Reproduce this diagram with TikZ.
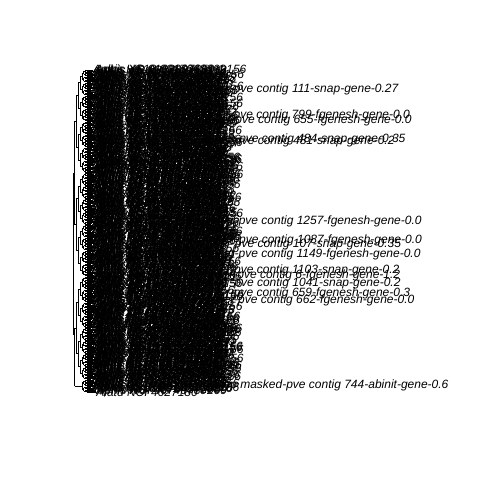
\documentclass[tikz,border=0pt]{standalone}
\usepackage{fontspec}
\setmainfont{Liberation Sans}
\pgfkeyssetvalue{/lbl/24}{Aphis glycines BT1 maker-pve contig 111-snap-gene-0.27}
\pgfkeyssetvalue{/lbl/56}{Aphis glycines BT1 maker-pve contig 799-fgenesh-gene-0.0}
\pgfkeyssetvalue{/lbl/62}{Aphis glycines BT1 maker-pve contig 655-fgenesh-gene-0.0}
\pgfkeyssetvalue{/lbl/86}{Aphis glycines BT1 maker-pve contig 484-snap-gene-0.35}
\pgfkeyssetvalue{/lbl/88}{Aphis glycines BT1 maker-pve contig 481-snap-gene-0.2}
\pgfkeyssetvalue{/lbl/187}{Aphis glycines BT1 maker-pve contig 1257-fgenesh-gene-0.0}
\pgfkeyssetvalue{/lbl/211}{Aphis glycines BT1 maker-pve contig 1087-fgenesh-gene-0.0}
\pgfkeyssetvalue{/lbl/216}{Aphis glycines BT1 maker-pve contig 107-snap-gene-0.35}
\pgfkeyssetvalue{/lbl/228}{Aphis glycines BT1 maker-pve contig 1149-fgenesh-gene-0.0}
\pgfkeyssetvalue{/lbl/248}{Aphis glycines BT1 maker-pve contig 1103-snap-gene-0.2}
\pgfkeyssetvalue{/lbl/255}{Aphis glycines BT1 maker-pve contig 6-fgenesh-gene-1.2}
\pgfkeyssetvalue{/lbl/264}{Aphis glycines BT1 maker-pve contig 1041-snap-gene-0.2}
\pgfkeyssetvalue{/lbl/277}{Aphis glycines BT1 maker-pve contig 659-fgenesh-gene-0.3}
\pgfkeyssetvalue{/lbl/285}{Aphis glycines BT1 maker-pve contig 662-fgenesh-gene-0.0}
\pgfkeyssetvalue{/lbl/391}{Aphis glycines maker-snap masked-pve contig 744-abinit-gene-0.6}
\pgfkeyssetvalue{/lbl/0}{Aphis HS18 0917068809156}
\pgfkeyssetvalue{/lbl/399}{Alatd NCI 4627180}
\begin{document}
\begin{tikzpicture}[x=1pt,y=-1pt,
  br/.style={line width=0.45pt,black},
  leaf/.style={anchor=west,inner sep=0pt,font=\itshape\fontsize{12}{12}\selectfont}]
\useasboundingbox (0,0) rectangle (480,480);
\pgfmathsetseed{7}
\def\NN{400}
\def\sp{0.807}
% leaves
\foreach \ii in {0,...,399}{
  \pgfmathsetmacro\yy{70+\ii*\sp}
  \pgfmathsetmacro\lx{91+random(0,60)/10}
  \pgfkeysifdefined{/lbl/\ii}{\pgfkeysgetvalue{/lbl/\ii}{\txt}}{%
    \pgfmathtruncatemacro\ra{random(1000,9999)}%
    \pgfmathtruncatemacro\rb{random(100,999)}%
    \pgfmathtruncatemacro\rk{random(0,5)}%
    \ifcase\rk
      \edef\txt{Aphis XP 016\ra\rb.1}%
    \or
      \edef\txt{Aphis HS18 0917\ra\rb}%
    \or
      \edef\txt{Aphis NCI 46\ra\rb 09}%
    \or
      \edef\txt{Aphis XP 02\ra\rb\rb}%
    \or
      \edef\txt{Aphis HS18 \ra\rb 09156}%
    \else
      \edef\txt{Aphis glycines \ra\rb}%
    \fi}%
  \node[leaf] (l\ii) at (\lx,\yy) {\txt};
  \draw[br] (89,\yy) -- (l\ii.west);
}
% tree
\foreach \ka in {1,...,9}{
  \pgfmathtruncatemacro\gs{2^(\ka-1)}
  \pgfmathtruncatemacro\nc{ceil(\NN/\gs)-1}
  \pgfmathsetmacro\xp{89-1.8*\ka}
  \pgfmathsetmacro\xc{89-1.8*(\ka-1)}
  \foreach \cc in {0,...,\nc}{
    \pgfmathtruncatemacro\cf{\cc*\gs}
    \pgfmathtruncatemacro\cl{min((\cc+1)*\gs,\NN)-1}
    \pgfmathsetmacro\yc{70+(\cf+\cl)/2*\sp}
    \coordinate (c\ka-\cc) at (\xp,\yc);
    \draw[br] (c\ka-\cc) -- (\xc,\yc);
    \ifodd\cc\else
      \pgfmathtruncatemacro\sib{\cc+1}
      \ifnum\sib>\nc\else
        \pgfmathtruncatemacro\sf{\sib*\gs}
        \pgfmathtruncatemacro\sl{min((\sib+1)*\gs,\NN)-1}
        \pgfmathsetmacro\ys{70+(\sf+\sl)/2*\sp}
        \draw[br] (c\ka-\cc) -- (\xp,\ys);
      \fi
    \fi
  }
}
\end{tikzpicture}
\end{document}
